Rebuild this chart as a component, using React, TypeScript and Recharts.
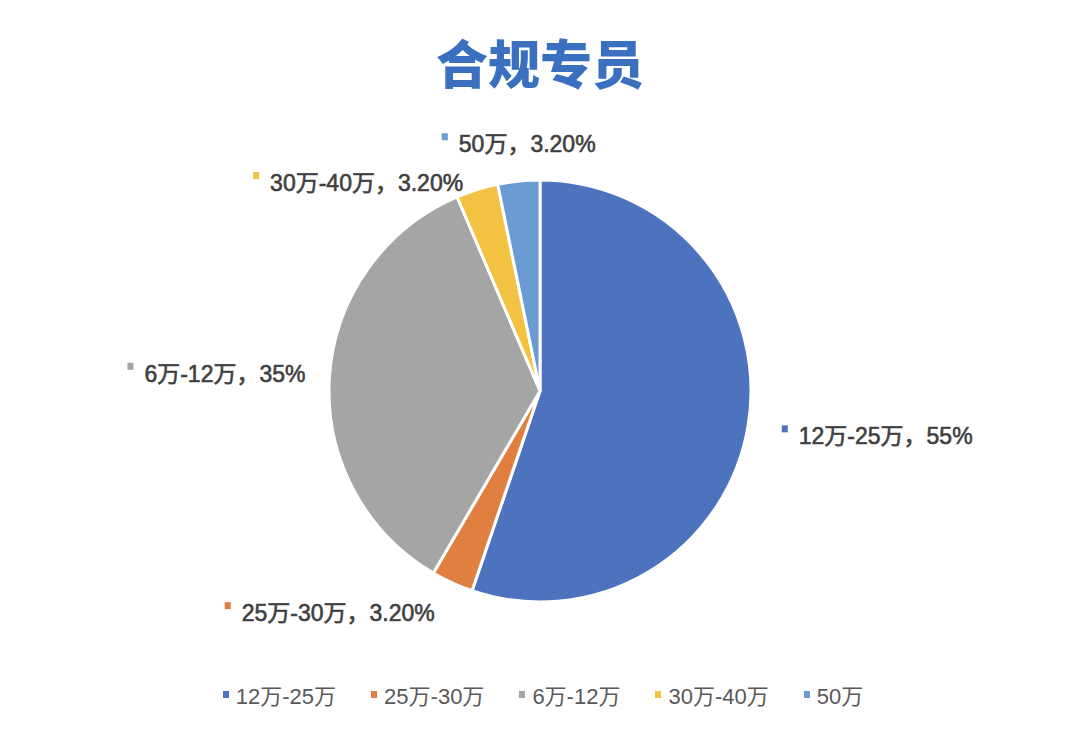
import React from 'react';
import { PieChart, Pie, Cell, Legend } from 'recharts';

const categories = ['12万-25万', '25万-30万', '6万-12万', '30万-40万', '50万'];
const shares = [55, 3.2, 35, 3.2, 3.2];
const shareLabels = ['55%', '3.20%', '35%', '3.20%', '3.20%'];
const colors = ['#4E73BE', '#E07F3F', '#A5A5A5', '#F4C242', '#6A9BD2'];
// small per-label nudges, like the spreadsheet's own label shifting
const labelNudgeX = [0, 0, 11, 0, 0];
const labelNudgeY = [6, 3, -2, 22, -7];

const data = categories.map((name, i) => ({ name, value: shares[i] }));

const LABEL_FONT = 23;
const FONT = "'Liberation Sans', 'Noto Sans CJK SC', sans-serif";

let ctx: CanvasRenderingContext2D | null = null;
function measure(text: string, size: number) {
  if (!ctx) ctx = document.createElement('canvas').getContext('2d');
  if (!ctx) return text.length * size * 0.6;
  ctx.font = `${size}px ${FONT}`;
  return ctx.measureText(text).width;
}

const RAD = Math.PI / 180;

function renderLabel(props: any) {
  const { cx, cy, midAngle, outerRadius, index } = props;
  const r = outerRadius + 30;
  const cos = Math.cos(-midAngle * RAD);
  const px = cx + r * cos + labelNudgeX[index];
  const py = cy + r * Math.sin(-midAngle * RAD) + labelNudgeY[index];
  const text = `${categories[index]}，${shareLabels[index]}`;
  const tw = measure(text, LABEL_FONT);
  const boxW = 17 + tw;
  let left: number;
  if (cos > 0.2) left = px + 4;
  else if (cos < -0.2) left = px - boxW - 5;
  else left = px - boxW / 2 + 3;
  return (
    <g key={`lbl-${index}`}>
      <rect x={left} y={py - 11} width={6} height={7} fill={colors[index]} />
      <text
        x={left + 17}
        y={py + 8}
        fontSize={LABEL_FONT}
        fontFamily={FONT}
        fill="#404040"
        stroke="#404040"
        strokeWidth={0.6}
        textAnchor="start"
      >
        {text}
      </text>
    </g>
  );
}

function renderLegend() {
  return (
    <div style={{ display: 'flex', justifyContent: 'center', gap: 35, fontFamily: FONT, fontSize: 22, color: '#595959' }}>
      {categories.map((c, i) => (
        <div key={c} style={{ display: 'flex', alignItems: 'center' }}>
          <span style={{ display: 'inline-block', width: 6, height: 7, background: colors[i], marginRight: 7 }} />
          <span>{c}</span>
        </div>
      ))}
    </div>
  );
}

export default function App() {
  return (
    <div style={{ position: 'absolute', left: 0, top: 0, width: 1080, height: 734, background: '#fff' }}>
      <div
        style={{
          position: 'absolute',
          top: 24,
          left: 0,
          width: 1080,
          textAlign: 'center',
          fontFamily: "'Noto Sans CJK SC', sans-serif",
          fontWeight: 900,
          fontSize: 52,
          lineHeight: '76px',
          color: '#3B6FBF',
        }}
      >
        合规专员
      </div>
      <PieChart width={1080} height={734} margin={{ top: 0, right: 0, bottom: 0, left: 0 }}>
        <Pie
          data={data}
          dataKey="value"
          nameKey="name"
          cx={540}
          cy={391}
          outerRadius={211}
          startAngle={90}
          endAngle={-270}
          stroke="#ffffff"
          strokeWidth={3}
          label={renderLabel}
          labelLine={false}
          isAnimationActive={false}
        >
          {data.map((d, i) => (
            <Cell key={d.name} fill={colors[i]} />
          ))}
        </Pie>
        <Legend content={renderLegend} wrapperStyle={{ top: 678, left: 3, width: 1080 }} />
      </PieChart>
    </div>
  );
}
